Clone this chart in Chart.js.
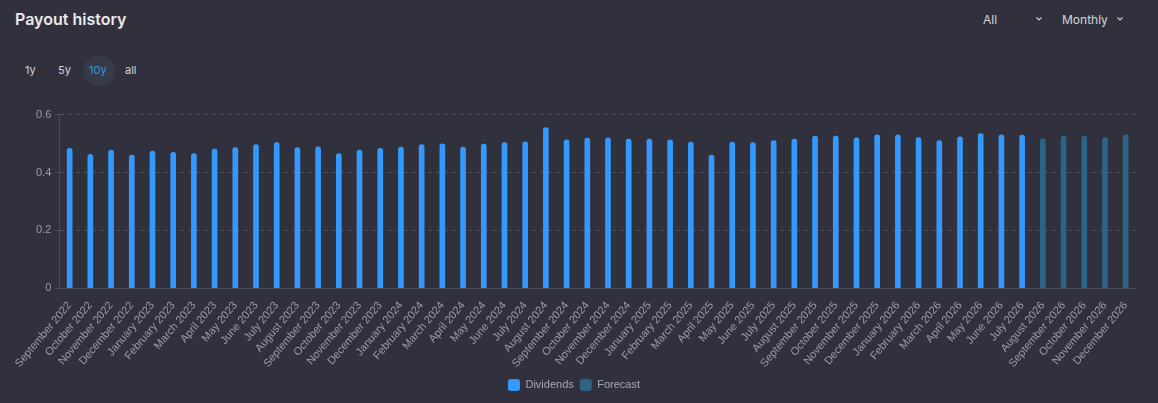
<!DOCTYPE html>
<html><head><meta charset="utf-8">
<script src="https://cdn.jsdelivr.net/npm/chart.js@4/dist/chart.umd.min.js"></script>
<style>
html,body{margin:0;padding:0;background:#31313d;width:1158px;height:403px;overflow:hidden;font-family:Inter,"Noto Sans",sans-serif;}
#title{position:absolute;left:15px;top:9px;font-size:16px;font-weight:600;color:#e8e9ec;}
.dd{position:absolute;top:12px;font-size:12px;color:#d3d5da;}
.chev{position:absolute;top:12px;width:6px;height:6px;}
.rng{position:absolute;top:63px;font-size:11px;color:#d3d5da;}
#r10{color:#2f9fe0;}
#r10bg{position:absolute;left:83px;top:56px;width:32px;height:30px;border-radius:16px;background:#373a48;}
#wrap{position:absolute;left:0;top:104px;width:1158px;height:299px;}
</style></head>
<body>
<div id="title">Payout history</div>
<div class="dd" style="left:983px">All</div>
<svg class="chev" style="left:1036px;top:16px" viewBox="0 0 6 4"><path d="M0.5 0.5 L3 3 L5.5 0.5" stroke="#c8cad0" stroke-width="1.2" fill="none"/></svg>
<div class="dd" style="left:1062px">Monthly</div>
<svg class="chev" style="left:1117px;top:16px" viewBox="0 0 6 4"><path d="M0.5 0.5 L3 3 L5.5 0.5" stroke="#c8cad0" stroke-width="1.2" fill="none"/></svg>
<div id="r10bg"></div>
<div class="rng" style="left:25px">1y</div>
<div class="rng" style="left:58px">5y</div>
<div class="rng" id="r10" style="left:89px">10y</div>
<div class="rng" style="left:125px">all</div>
<div id="wrap"><canvas id="c"></canvas></div>
<script>
const months = ["September 2022","October 2022","November 2022","December 2022","January 2023","February 2023","March 2023","April 2023","May 2023","June 2023","July 2023","August 2023","September 2023","October 2023","November 2023","December 2023","January 2024","February 2024","March 2024","April 2024","May 2024","June 2024","July 2024","August 2024","September 2024","October 2024","November 2024","December 2024","January 2025","February 2025","March 2025","April 2025","May 2025","June 2025","July 2025","August 2025","September 2025","October 2025","November 2025","December 2025","January 2026","February 2026","March 2026","April 2026","May 2026","June 2026","July 2026","August 2026","September 2026","October 2026","November 2026","December 2026"];
const dividends = [0.483,0.463,0.477,0.460,0.474,0.470,0.465,0.481,0.486,0.496,0.503,0.486,0.489,0.465,0.477,0.483,0.488,0.496,0.499,0.488,0.498,0.503,0.506,0.555,0.513,0.519,0.520,0.515,0.515,0.513,0.505,0.460,0.505,0.503,0.510,0.515,0.526,0.526,0.520,0.530,0.530,0.521,0.510,0.523,0.534,0.530,0.529];
const forecast = [0.516,0.526,0.526,0.521,0.530];
const yTicks = [0,0.2,0.4,0.6];

const divData = months.map((m,i)=> i < dividends.length ? dividends[i] : null);
const fcData = months.map((m,i)=> i >= dividends.length ? forecast[i-dividends.length] : null);
const tickFont = {size:11,family:'"Liberation Sans", Arial, sans-serif'};

new Chart(document.getElementById('c'), {
  type:'bar',
  data:{labels:months,datasets:[
    {label:'Dividends',data:divData,backgroundColor:'#3399ff',borderRadius:{topLeft:3,topRight:3},borderSkipped:'bottom',barThickness:5,grouped:false},
    {label:'Forecast',data:fcData,backgroundColor:'#2d6384',borderRadius:{topLeft:3,topRight:3},borderSkipped:'bottom',barThickness:5,grouped:false}
  ]},
  options:{
    responsive:true,maintainAspectRatio:false,animation:false,
    layout:{padding:{left:12,right:22,top:4.5,bottom:2}},
    plugins:{
      legend:{position:'bottom',labels:{color:'#a6a8b0',font:tickFont,boxWidth:12,boxHeight:12,useBorderRadius:true,borderRadius:3,padding:6}},
      tooltip:{enabled:false}
    },
    scales:{
      x:{grid:{display:false},border:{color:'#4a4d59'},ticks:{color:'#9a9ca5',font:tickFont,maxRotation:50,minRotation:50,autoSkip:false,padding:3}},
      y:{min:0,max:0.6,afterBuildTicks:(ax)=>{ax.ticks=yTicks.map(v=>({value:v}));},
         afterFit:(ax)=>{ax.width += 20;},
         grid:{color:'#50535f',drawTicks:true,tickLength:4},border:{color:'#4a4d59',dash:[4,4]},
         ticks:{color:'#9a9ca5',font:tickFont,padding:4,callback:v=>String(v)}}
    }
  }
});
</script>
</body></html>
